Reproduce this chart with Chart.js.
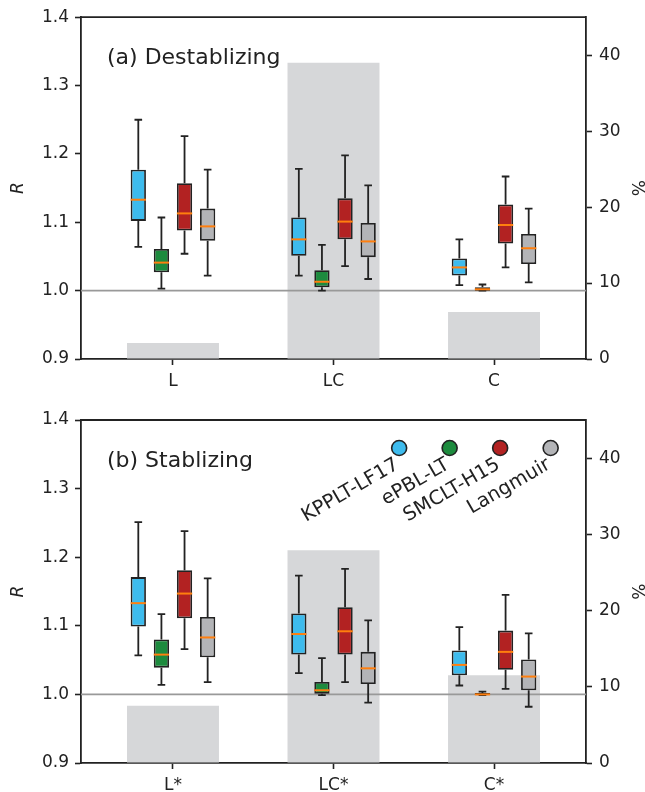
<!DOCTYPE html>
<html>
<head>
<meta charset="utf-8">
<script src="https://cdn.jsdelivr.net/npm/chart.js@4.4.0/dist/chart.umd.min.js"></script>
<style>
  html, body { margin: 0; padding: 0; background: #fff; }
  .panel { position: relative; width: 645px; height: 396px; }
</style>
</head>
<body>
<div class="panel"><canvas id="chartA"></canvas></div>
<div class="panel"><canvas id="chartB"></canvas></div>
<script>
// categories and model names
const catsA = ['L', 'LC', 'C'];
const catsB = ['L*', 'LC*', 'C*'];
const models = ['KPPLT-LF17', 'ePBL-LT', 'SMCLT-H15', 'Langmuir'];
const modelColors = ['#3dbbed', '#1d8b3e', '#b22222', '#b3b4b7'];

// occurrence of each regime (%), right axis
const shareA = [2.1, 39.0, 6.2];
const shareB = [7.5, 27.9, 11.5];

// box stats per category: [whisker low, q1, median, q3, whisker high]
const kppA = [[1.064, 1.102, 1.133, 1.177, 1.250], [1.022, 1.051, 1.075, 1.107, 1.178], [1.008, 1.022, 1.034, 1.047, 1.075]];
const epbA = [[1.003, 1.027, 1.041, 1.061, 1.107], [1.000, 1.005, 1.013, 1.030, 1.067], [1.000, 1.000, 1.002, 1.005, 1.009]];
const smcA = [[1.054, 1.088, 1.113, 1.157, 1.226], [1.036, 1.075, 1.101, 1.135, 1.198], [1.034, 1.069, 1.096, 1.126, 1.167]];
const lanA = [[1.022, 1.073, 1.094, 1.120, 1.177], [1.017, 1.049, 1.072, 1.099, 1.154], [1.012, 1.039, 1.062, 1.083, 1.120]];

const kppB = [[1.057, 1.099, 1.133, 1.171, 1.251], [1.031, 1.058, 1.088, 1.118, 1.173], [1.013, 1.028, 1.043, 1.064, 1.098]];
const epbB = [[1.014, 1.039, 1.058, 1.080, 1.117], [0.999, 1.001, 1.006, 1.018, 1.053], [0.999, 0.999, 1.000, 1.002, 1.004]];
const smcB = [[1.066, 1.111, 1.147, 1.181, 1.238], [1.018, 1.058, 1.092, 1.127, 1.183], [1.008, 1.036, 1.062, 1.093, 1.145]];
const lanB = [[1.018, 1.054, 1.083, 1.113, 1.169], [0.988, 1.015, 1.038, 1.062, 1.108], [0.982, 1.006, 1.026, 1.051, 1.089]];

const rTicks = [0.9, 1.0, 1.1, 1.2, 1.3, 1.4];
const pctTicks = [0, 10, 20, 30, 40];

Chart.defaults.font.family = "'DejaVu Sans', sans-serif";
Chart.defaults.color = '#222';

const offsets = [-0.216, -0.072, 0.072, 0.216];
const xMin = -0.573, xMax = 2.573;
const ink = '#222';

// whiskers, caps, medians, frame, panel title and the rotated legend
const boxExtras = {
  id: 'boxExtras',
  afterDatasetsDraw(chart, args, opts) {
    const ctx = chart.ctx;
    const y = chart.scales.y;
    const area = chart.chartArea;
    ctx.save();
    chart.data.datasets.forEach((ds, di) => {
      if (!ds.stats) return;
      const meta = chart.getDatasetMeta(di);
      meta.data.forEach((el, i) => {
        const s = ds.stats[i];
        const x = el.x, half = el.width / 2, cap = el.width / 4;
        ctx.strokeStyle = ink;
        ctx.lineWidth = 1.8;
        ctx.beginPath();
        ctx.moveTo(x, y.getPixelForValue(s[0]));
        ctx.lineTo(x, y.getPixelForValue(s[1]));
        ctx.moveTo(x, y.getPixelForValue(s[3]));
        ctx.lineTo(x, y.getPixelForValue(s[4]));
        ctx.moveTo(x - cap, y.getPixelForValue(s[0]));
        ctx.lineTo(x + cap, y.getPixelForValue(s[0]));
        ctx.moveTo(x - cap, y.getPixelForValue(s[4]));
        ctx.lineTo(x + cap, y.getPixelForValue(s[4]));
        ctx.stroke();
        ctx.strokeStyle = '#ff7f0e';
        ctx.lineWidth = 2;
        ctx.beginPath();
        ctx.moveTo(x - half, y.getPixelForValue(s[2]));
        ctx.lineTo(x + half, y.getPixelForValue(s[2]));
        ctx.stroke();
      });
    });
    // top edge of the frame
    ctx.strokeStyle = ink;
    ctx.lineWidth = 1.8;
    ctx.beginPath();
    ctx.moveTo(area.left, area.top);
    ctx.lineTo(area.right, area.top);
    ctx.stroke();
    // panel title
    ctx.fillStyle = ink;
    ctx.font = "22px 'DejaVu Sans'";
    ctx.textAlign = 'left';
    ctx.textBaseline = 'alphabetic';
    ctx.fillText(opts.title, area.left + 26, area.top + 47);
    if (opts.legend) {
      const w = area.right - area.left;
      const spots = [0.63, 0.73, 0.83, 0.93];
      models.forEach((name, k) => {
        const cx = area.left + spots[k] * w, cy = area.top + 28;
        ctx.beginPath();
        ctx.arc(cx, cy, 7.5, 0, Math.PI * 2);
        ctx.fillStyle = modelColors[k];
        ctx.fill();
        ctx.lineWidth = 1.6;
        ctx.strokeStyle = ink;
        ctx.stroke();
        ctx.save();
        ctx.translate(cx - 6.5, cy + 7);
        ctx.rotate(-Math.PI / 6);
        ctx.fillStyle = ink;
        ctx.font = "19.5px 'DejaVu Sans'";
        ctx.textAlign = 'right';
        ctx.textBaseline = 'top';
        ctx.fillText(name, 0, 0);
        ctx.restore();
      });
    }
    ctx.restore();
  }
};

function makePanel(id, cats, share, stats, title, topPad, xHeight, legend) {
  const datasets = [
    {
      type: 'bar',
      data: share.map((v, i) => ({ x: i, y: v })),
      xAxisID: 'xb',
      yAxisID: 'y2',
      backgroundColor: '#d6d7d9',
      borderWidth: 0,
      grouped: false,
      categoryPercentage: 1,
      barPercentage: 0.573,
      order: 10
    },
    {
      type: 'line',
      data: [{ x: xMin, y: 1.0 }, { x: xMax, y: 1.0 }],
      xAxisID: 'x',
      yAxisID: 'y',
      borderColor: '#999',
      borderWidth: 1.6,
      pointRadius: 0,
      order: 5
    }
  ];
  stats.forEach((st, m) => {
    datasets.push({
      type: 'bar',
      label: models[m],
      data: st.map((s, i) => ({ x: i + offsets[m], y: [s[1], s[3]] })),
      stats: st,
      xAxisID: 'x',
      yAxisID: 'y',
      backgroundColor: modelColors[m],
      borderColor: ink,
      borderWidth: 1.8,
      borderSkipped: false,
      grouped: false,
      categoryPercentage: 1,
      barPercentage: 0.66,
      order: 0
    });
  });

  const gridStyle = { drawOnChartArea: false, offset: false, tickLength: 6, tickWidth: 1.6, tickColor: ink };
  const borderStyle = { color: ink, width: 1.8 };
  const catTicks = (scale) => { scale.ticks = cats.map((c, i) => ({ value: i })); };

  return new Chart(document.getElementById(id), {
    data: { datasets },
    options: {
      responsive: true,
      maintainAspectRatio: false,
      animation: false,
      layout: { padding: { top: topPad, left: 0, right: 0, bottom: 0 } },
      plugins: {
        legend: { display: false },
        tooltip: { enabled: false },
        boxExtras: { title, legend }
      },
      scales: {
        x: {
          type: 'linear',
          offset: false,
          min: xMin,
          max: xMax,
          grid: gridStyle,
          border: borderStyle,
          afterBuildTicks: catTicks,
          afterFit: (scale) => { scale.height = xHeight; },
          ticks: {
            font: { size: 17 },
            padding: 6,
            maxRotation: 0,
            callback: (v) => cats[v]
          }
        },
        xb: {
          type: 'linear',
          display: false,
          offset: false,
          grid: { offset: false },
          min: xMin,
          max: xMax,
          afterBuildTicks: catTicks
        },
        y: {
          position: 'left',
          min: 0.9,
          max: 1.4,
          grid: gridStyle,
          border: borderStyle,
          afterBuildTicks: (scale) => { scale.ticks = rTicks.map(v => ({ value: v })); },
          afterFit: (scale) => { scale.width = 81; },
          ticks: {
            font: { size: 17 },
            padding: 6,
            callback: (v) => v.toFixed(1)
          },
          title: {
            display: true,
            text: 'R',
            font: { size: 17, style: 'italic' },
            padding: { top: 8, bottom: 0 }
          }
        },
        y2: {
          position: 'right',
          min: 0,
          max: 45,
          grid: gridStyle,
          border: borderStyle,
          afterBuildTicks: (scale) => { scale.ticks = pctTicks.map(v => ({ value: v })); },
          afterFit: (scale) => { scale.width = 59; },
          ticks: {
            font: { size: 17 },
            padding: 7
          },
          title: {
            display: true,
            text: '%',
            font: { size: 17, lineHeight: 1 },
            padding: { top: 0, bottom: 0 }
          }
        }
      }
    },
    plugins: [boxExtras]
  });
}

makePanel('chartA', catsA, shareA, [kppA, epbA, smcA, lanA], '(a) Destablizing', 17, 37, false);
makePanel('chartB', catsB, shareB, [kppB, epbB, smcB, lanB], '(b) Stablizing', 24, 29, true);
</script>
</body>
</html>
